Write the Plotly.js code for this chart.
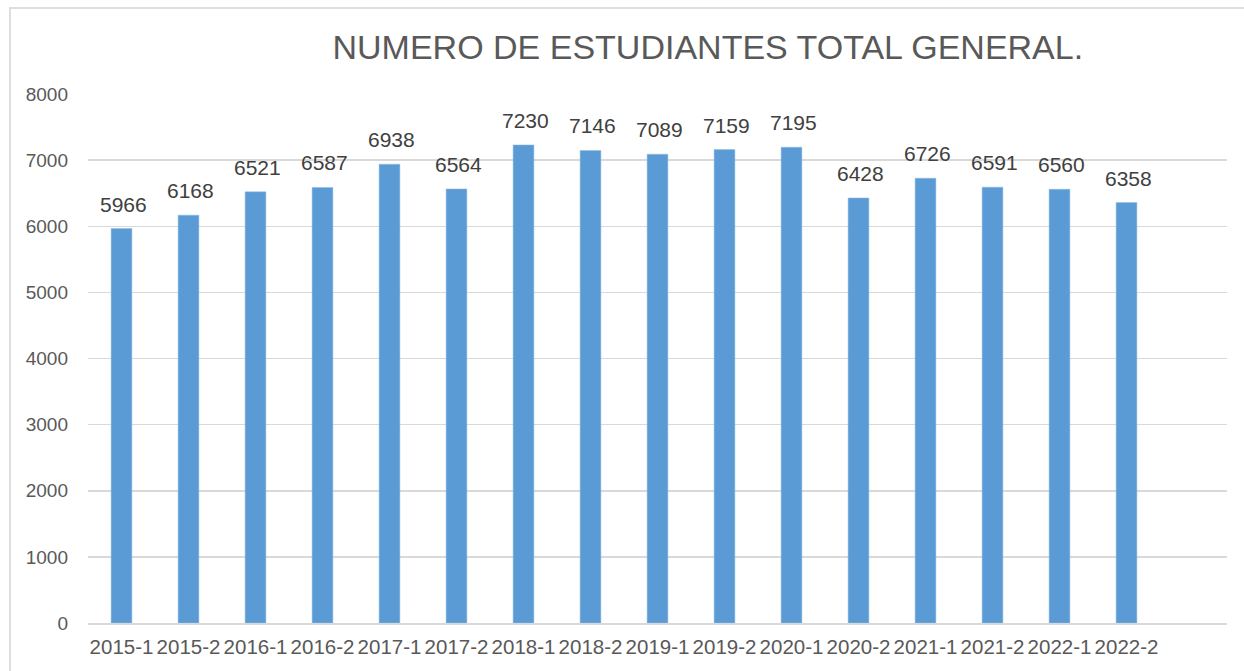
<!DOCTYPE html>
<html>
<head>
<meta charset="utf-8">
<script src="https://cdn.plot.ly/plotly-3.0.1.min.js"></script>
<style>
  html, body { margin: 0; padding: 0; background: #fff; }
  #frame { position: absolute; left: 9px; top: 7px; width: 1240px; height: 670px;
           border-top: 2px solid #dedede; border-left: 2px solid #dedede; pointer-events: none; z-index: 5; }
  #chart { position: absolute; left: 0; top: 0; width: 1244px; height: 671px; }
</style>
</head>
<body>
<div id="chart"></div>
<div id="frame"></div>
<script>
const chartTitle = "NUMERO DE ESTUDIANTES TOTAL GENERAL.";
const periods = ["2015-1","2015-2","2016-1","2016-2","2017-1","2017-2","2018-1","2018-2",
                 "2019-1","2019-2","2020-1","2020-2","2021-1","2021-2","2022-1","2022-2"];
const students = [5966, 6168, 6521, 6587, 6938, 6564, 7230, 7146,
                  7089, 7159, 7195, 6428, 6726, 6591, 6560, 6358];
const yTicks = [0, 1000, 2000, 3000, 4000, 5000, 6000, 7000, 8000];

const FONT = "Liberation Sans, Arial, sans-serif";

const trace = {
  type: "bar",
  x: periods,
  y: students,
  marker: { color: "#5B9BD5", line: { color: "#8fbbe3", width: 0.5 } },
  width: 0.31,
  hoverinfo: "x+y"
};

const labelAnnotations = periods.map((p, i) => ({
  x: p, y: students[i], xref: "x", yref: "y",
  text: String(students[i]),
  showarrow: false,
  xanchor: "center", yanchor: "bottom",
  xshift: 2, yshift: 11,
  font: { family: FONT, size: 21, color: "#404040" }
}));

const layout = {
  width: 1244, height: 671,
  margin: { l: 88, r: 17, t: 94, b: 48, pad: 0 },
  paper_bgcolor: "#ffffff",
  plot_bgcolor: "#ffffff",
  showlegend: false,
  title: {
    text: chartTitle,
    x: 0.569, xref: "container", xanchor: "center",
    y: 0.93, yref: "container", yanchor: "middle",
    font: { family: FONT, size: 34, color: "#595959" }
  },
  xaxis: {
    type: "category",
    categoryorder: "array",
    categoryarray: periods,
    range: [-0.5, periods.length + 0.5],
    tickangle: 0,
    ticks: "",
    showgrid: false,
    showline: true, linecolor: "#d9d9d9", linewidth: 1.5,
    zeroline: false,
    ticklabelstandoff: 5,
    tickfont: { family: FONT, size: 20.5, color: "#595959" },
    fixedrange: true
  },
  yaxis: {
    range: [0, 8000],
    tickvals: yTicks,
    ticktext: yTicks.map(String),
    ticks: "",
    showgrid: true, gridcolor: "#d9d9d9", gridwidth: 1.5,
    zeroline: false,
    showline: false,
    ticklabelstandoff: 19,
    tickfont: { family: FONT, size: 19, color: "#595959" },
    fixedrange: true
  },
  annotations: labelAnnotations,
  bargap: 0.69
};

Plotly.newPlot("chart", [trace], layout, { displayModeBar: false, staticPlot: true });
</script>
</body>
</html>
